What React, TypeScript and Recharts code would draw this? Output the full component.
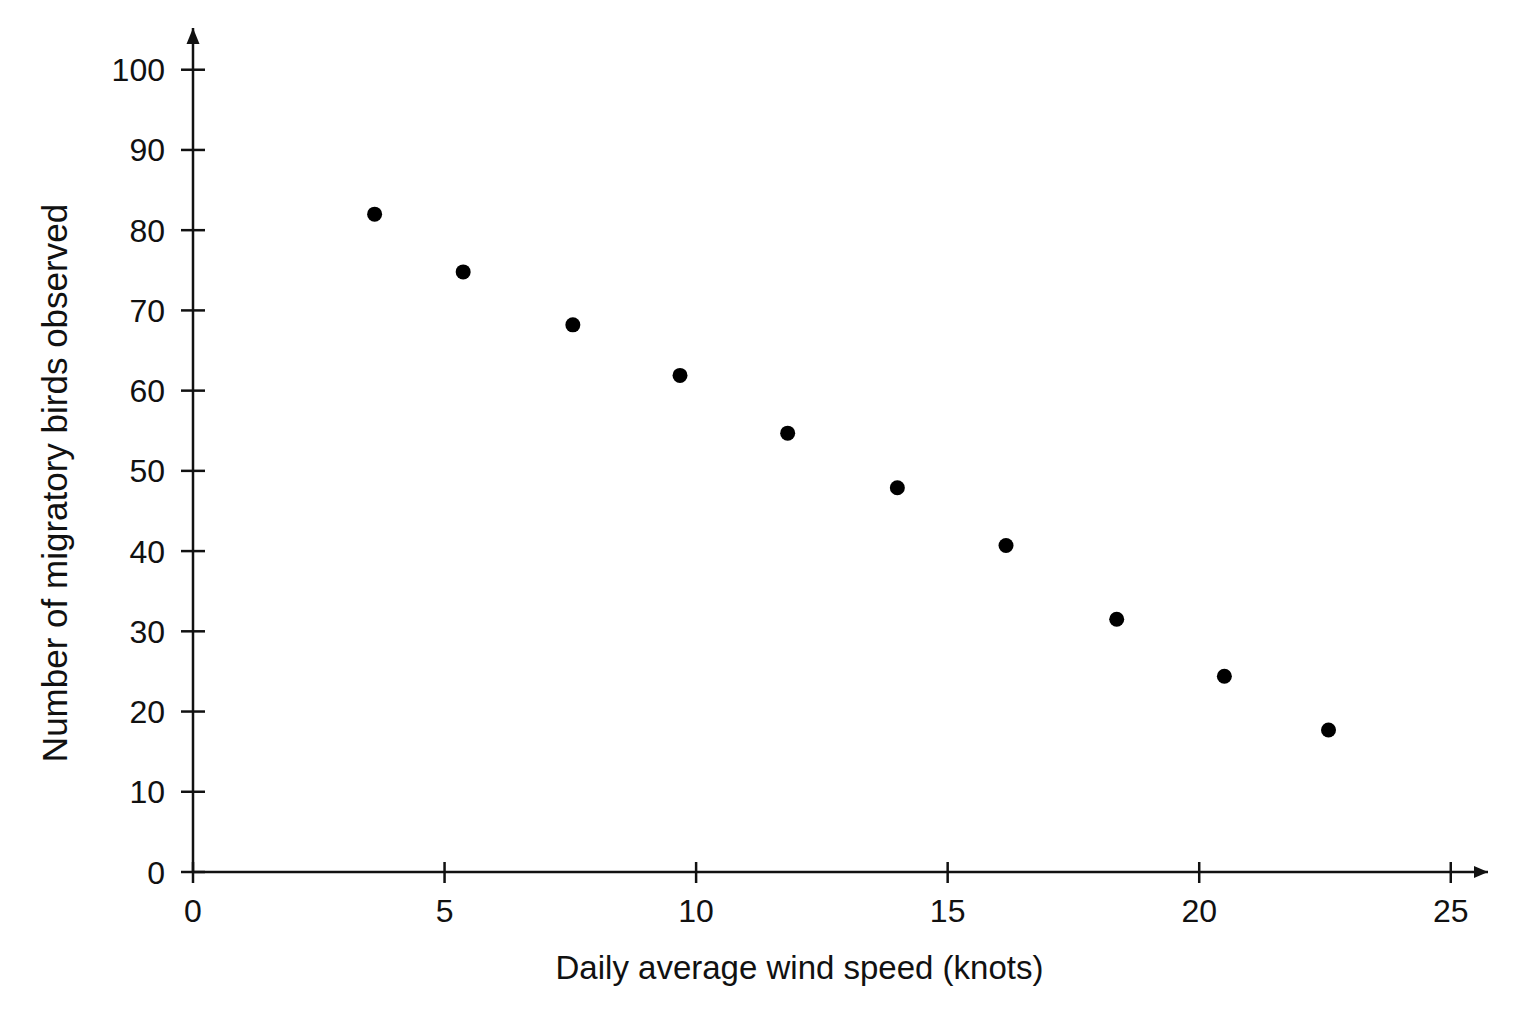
import { ScatterChart, Scatter, XAxis, YAxis, ReferenceDot } from "recharts";

// wind speed (knots) vs birds observed
const windSpeed = [3.61, 5.37, 7.55, 9.68, 11.82, 14.0, 16.16, 18.36, 20.5, 22.57];
const birdCount = [82.0, 74.8, 68.2, 61.9, 54.7, 47.9, 40.7, 31.5, 24.4, 17.7];

const xTicks = [0, 5, 10, 15, 20, 25];
const yTicks = [0, 10, 20, 30, 40, 50, 60, 70, 80, 90, 100];

const xTitle = "Daily average wind speed (knots)";
const yTitle = "Number of migratory birds observed";

// axes run a little past the last tick to the arrow heads
const X_END = 25.74;
const Y_END = 105.2;

const INK = "#111";
const FONT = "'Liberation Sans', Arial, Helvetica, sans-serif";

const data = windSpeed.map((w, i) => ({ wind: w, birds: birdCount[i] }));

const YTick = ({ x, y, payload }: any) => (
  <g>
    <line x1={x - 12} x2={x + 12} y1={y} y2={y} stroke={INK} strokeWidth={2.5} />
    <text
      x={x - 28}
      y={y}
      dy="0.36em"
      textAnchor="end"
      fontSize={32}
      fontFamily={FONT}
      fill={INK}
    >
      {payload.value}
    </text>
  </g>
);

const XTick = ({ x, y, payload }: any) => (
  <g>
    <line x1={x} x2={x} y1={y - 10} y2={y + 11} stroke={INK} strokeWidth={2.5} />
    <text
      x={x}
      y={y + 50}
      textAnchor="middle"
      fontSize={32}
      fontFamily={FONT}
      fill={INK}
    >
      {payload.value}
    </text>
  </g>
);

const Dot = (props: any) => <circle cx={props.cx} cy={props.cy} r={7.5} fill="#000" />;

const UpArrow = (props: any) => (
  <path
    d={`M${props.cx},${props.cy} L${props.cx - 6.5},${props.cy + 16} L${props.cx + 6.5},${props.cy + 16} Z`}
    fill={INK}
  />
);

const RightArrow = (props: any) => (
  <path
    d={`M${props.cx},${props.cy} L${props.cx - 14},${props.cy - 6} L${props.cx - 14},${props.cy + 6} Z`}
    fill={INK}
  />
);

export default function App() {
  return (
    <div style={{ width: 1520, height: 1000, background: "#fff" }}>
      <ScatterChart
        width={1520}
        height={1000}
        margin={{ top: 20, right: 40, left: 85, bottom: 16 }}
      >
        <XAxis
          type="number"
          dataKey="wind"
          domain={[0, X_END]}
          ticks={xTicks}
          tick={<XTick />}
          tickLine={false}
          tickSize={0}
          tickMargin={0}
          height={120}
          axisLine={{ stroke: INK, strokeWidth: 2.5 }}
          label={{
            content: () => (
              <text
                x={791.5}
                y={971}
                textAnchor="middle"
                fontSize={33}
                fontFamily={FONT}
                fill={INK}
              >
                {xTitle}
              </text>
            ),
          }}
        />
        <YAxis
          type="number"
          dataKey="birds"
          domain={[0, Y_END]}
          ticks={yTicks}
          tick={<YTick />}
          tickLine={false}
          tickSize={0}
          tickMargin={0}
          width={100}
          axisLine={{ stroke: INK, strokeWidth: 2.5 }}
          label={{
            content: () => (
              <text
                x={59}
                y={475}
                transform="rotate(-90 59 475)"
                textAnchor="middle"
                fontSize={35}
                fontFamily={FONT}
                fill={INK}
              >
                {yTitle}
              </text>
            ),
          }}
        />
        <ReferenceDot x={0} y={Y_END} r={0} shape={UpArrow} ifOverflow="visible" />
        <ReferenceDot x={X_END} y={0} r={0} shape={RightArrow} ifOverflow="visible" />
        <Scatter data={data} shape={Dot} isAnimationActive={false} />
      </ScatterChart>
    </div>
  );
}
